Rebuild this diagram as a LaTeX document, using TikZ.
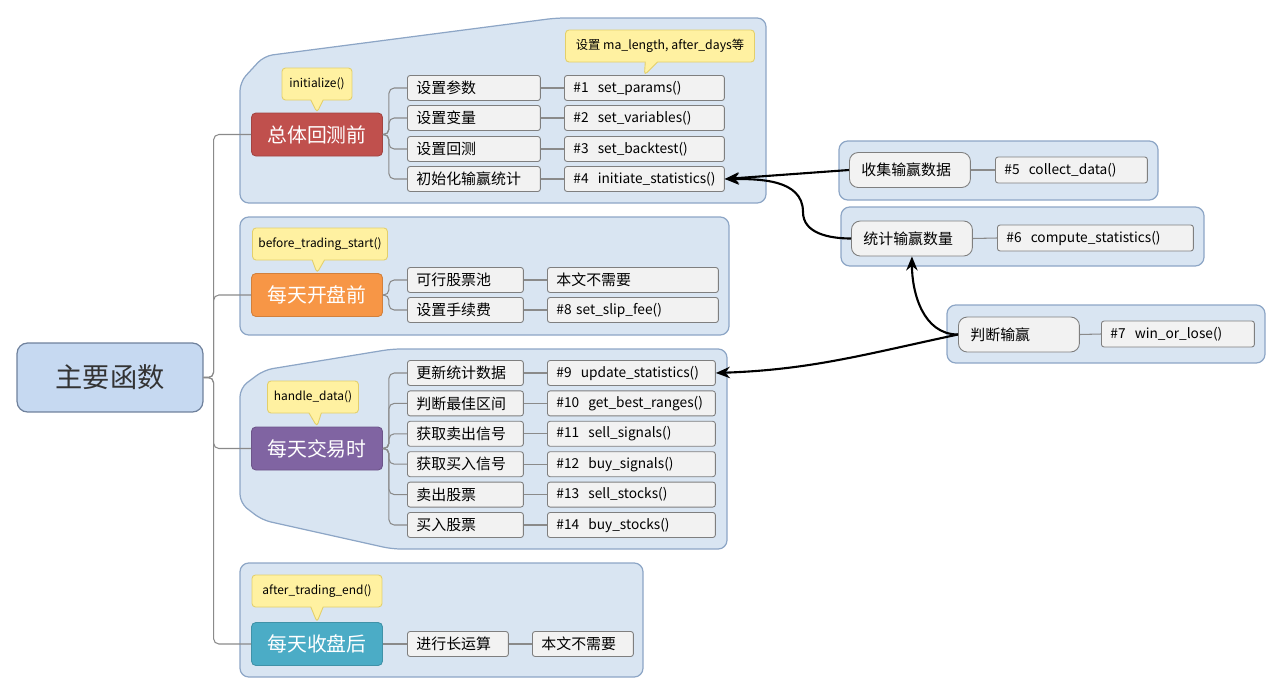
\documentclass[tikz,border=0pt]{standalone}
\usepackage{fontspec}
\setmainfont{Noto Sans CJK SC}
\usetikzlibrary{arrows.meta,shapes.callouts}

\definecolor{grpfill}{HTML}{D9E5F2}
\definecolor{grpdraw}{HTML}{8DA6C6}
\definecolor{cellfill}{HTML}{F2F2F2}
\definecolor{celldraw}{HTML}{7F7F7F}
\definecolor{rootfill}{HTML}{C6D9F1}
\definecolor{rootdraw}{HTML}{6F819C}
\definecolor{notefill}{HTML}{FFF1A1}
\definecolor{notedraw}{HTML}{E3CF6A}
\definecolor{linkcol}{HTML}{8A8A8A}
\definecolor{catred}{HTML}{C0504D}
\definecolor{catorange}{HTML}{F79646}
\definecolor{catpurple}{HTML}{8064A2}
\definecolor{catteal}{HTML}{4BACC6}

\tikzset{
  grp/.style={fill=grpfill,draw=grpdraw,line width=0.7pt,rounded corners=5pt},
  root/.style={fill=rootfill,draw=rootdraw,line width=0.7pt,rounded corners=6pt,
    minimum width=3.72cm,minimum height=1.38cm,text=black!80,
    font=\fontsize{15.5}{18}\selectfont},
  topic/.style={fill=#1,draw=#1!85!black,line width=0.5pt,rounded corners=2.5pt,
    text=white,minimum width=2.62cm,minimum height=0.86cm,inner sep=0pt,
    font=\fontsize{11.3}{13}\selectfont},
  cell/.style={draw=celldraw,fill=cellfill,line width=0.5pt,rounded corners=1.5pt,
    anchor=west,inner xsep=0.18cm,inner ysep=0pt,minimum height=0.5cm,
    text width=#1,align=left,font=\fontsize{8.5}{10}\selectfont,
    execute at begin node={\hyphenpenalty=10000\relax}},
  fn/.style={font=\fontsize{7.8}{9}\selectfont},
  sub/.style={draw=celldraw,fill=cellfill,line width=0.5pt,rounded corners=5pt,
    anchor=west,inner xsep=0.24cm,inner ysep=0pt,minimum height=0.7cm,
    text width=1.94cm,align=left,font=\fontsize{8.5}{10}\selectfont},
  note/.style={rectangle callout,callout absolute pointer={#1},
    callout pointer width=7pt,fill=notefill,draw=notedraw,line width=0.5pt,
    rounded corners=2pt,inner sep=0pt,minimum height=0.64cm,
    font=\fontsize{6.8}{8}\selectfont},
  link/.style={draw=linkcol,line width=0.6pt,rounded corners=3pt},
  flow/.style={-{Stealth[length=8pt,width=6.5pt]},line width=1.2pt,black},
}

\begin{document}
\begin{tikzpicture}[x=0.02cm,y=-0.02cm]
  \useasboundingbox (0,0) rectangle (1276,697);

  % 分组底色
  \draw[grp] (240,203) -- (240,82) -- (264,56) -- (556,18) -- (766,18) -- (766,203) -- cycle;
  \draw[grp] (240,217) rectangle (729,335);
  \draw[grp] (240,388) -- (264,370) -- (392,349) -- (727,349) -- (727,549)
    -- (392,549) -- (262,520) -- (240,503) -- cycle;
  \draw[grp] (240,563) rectangle (643,677);
  \draw[grp] (839,141) rectangle (1158,200);
  \draw[grp] (841,207) rectangle (1204,266);
  \draw[grp] (947,305) rectangle (1265,363);

  % 根节点与四个阶段
  \node[root] (root) at (110,377.5) {主要函数};
  \node[topic=catred] (r1) at (317,134.5) {总体回测前};
  \node[topic=catorange] (r2) at (317,295) {每天开盘前};
  \node[topic=catpurple] (r3) at (317,448.5) {每天交易时};
  \node[topic=catteal] (r4) at (317,644) {每天收盘后};

  % 提示框
  \node[note={(r1.north)},minimum width=1.4cm] (ninit) at (317,84) {initialize()};
  \node[note={(r2.north)},minimum width=2.7cm] (nbefore) at (320,244) {before\_trading\_start()};
  \node[note={(r3.north)},minimum width=1.82cm] (nhandle) at (313,397) {handle\_data()};
  \node[note={(r4.north)},minimum width=2.6cm] (nafter) at (317,591) {after\_trading\_end()};

  % 总体回测前
  \node[cell=2.30cm] (a1) at (407,88) {设置参数};
  \node[cell=2.30cm] (a2) at (407,118) {设置变量};
  \node[cell=2.30cm] (a3) at (407,149) {设置回测};
  \node[cell=2.30cm] (a4) at (407,179) {初始化输赢统计};
  \node[cell=2.84cm,fn] (f1) at (564,88) {\#1~ set\_params()};
  \node[cell=2.84cm,fn] (f2) at (564,118) {\#2~ set\_variables()};
  \node[cell=2.84cm,fn] (f3) at (564,149) {\#3~ set\_backtest()};
  \node[cell=2.84cm,fn] (f4) at (564,179) {\#4~ initiate\_statistics()};
  \node[note={(f1.north)},minimum width=3.78cm,font=\fontsize{7}{8}\selectfont] (nparam)
    at (660,46) {设置 ma\_length, after\_days等};

  % 每天开盘前
  \node[cell=1.96cm] (b1) at (407,280) {可行股票池};
  \node[cell=1.96cm] (b2) at (407,310) {设置手续费};
  \node[cell=3.06cm] (n1) at (547,280) {本文不需要};
  \node[cell=3.06cm,fn] (f8) at (547,310) {\#8 set\_slip\_fee()};

  % 每天交易时
  \node[cell=1.96cm] (d1) at (407,373) {更新统计数据};
  \node[cell=1.96cm] (d2) at (407,403.4) {判断最佳区间};
  \node[cell=1.96cm] (d3) at (407,433.8) {获取卖出信号};
  \node[cell=1.96cm] (d4) at (407,464.2) {获取买入信号};
  \node[cell=1.96cm] (d5) at (407,494.6) {卖出股票};
  \node[cell=1.96cm] (d6) at (407,525) {买入股票};
  \node[cell=3.00cm,fn] (f9) at (547,373) {\#9~ update\_statistics()};
  \node[cell=3.00cm,fn] (f10) at (547,403.4) {\#10~ get\_best\_ranges()};
  \node[cell=3.00cm,fn] (f11) at (547,433.8) {\#11~ sell\_signals()};
  \node[cell=3.00cm,fn] (f12) at (547,464.2) {\#12~ buy\_signals()};
  \node[cell=3.00cm,fn] (f13) at (547,494.6) {\#13~ sell\_stocks()};
  \node[cell=3.00cm,fn] (f14) at (547,525) {\#14~ buy\_stocks()};

  % 每天收盘后
  \node[cell=1.66cm] (e1) at (407,644) {进行长运算};
  \node[cell=1.66cm] (n2) at (532,644) {本文不需要};

  % 右侧辅助函数
  \node[sub] (s5) at (849,170) {收集输赢数据};
  \node[cell=2.68cm,fn,minimum height=0.52cm] (f5) at (995,170) {\#5~ collect\_data()};
  \node[sub] (s6) at (851,238.5) {统计输赢数量};
  \node[cell=3.56cm,fn,minimum height=0.52cm] (f6) at (997,238) {\#6~ compute\_statistics()};
  \node[sub] (s7) at (958,334.5) {判断输赢};
  \node[cell=2.70cm,fn,minimum height=0.52cm] (f7) at (1101,334) {\#7~ win\_or\_lose()};

  % 连线
  \draw[link] (root.east) -- ++(10,0) |- (r1.west);
  \draw[link] (root.east) -- ++(10,0) |- (r2.west);
  \draw[link] (root.east) -- ++(10,0) |- (r3.west);
  \draw[link] (root.east) -- ++(10,0) |- (r4.west);

  \draw[link] (r1.east) -- ++(6,0) |- (a1.west);
  \draw[link] (r1.east) -- ++(6,0) |- (a2.west);
  \draw[link] (r1.east) -- ++(6,0) |- (a3.west);
  \draw[link] (r1.east) -- ++(6,0) |- (a4.west);
  \draw[link] (a1.east) -- (f1.west);
  \draw[link] (a2.east) -- (f2.west);
  \draw[link] (a3.east) -- (f3.west);
  \draw[link] (a4.east) -- (f4.west);

  \draw[link] (r2.east) -- ++(6,0) |- (b1.west);
  \draw[link] (r2.east) -- ++(6,0) |- (b2.west);
  \draw[link] (b1.east) -- (n1.west);
  \draw[link] (b2.east) -- (f8.west);

  \draw[link] (r3.east) -- ++(6,0) |- (d1.west);
  \draw[link] (r3.east) -- ++(6,0) |- (d2.west);
  \draw[link] (r3.east) -- ++(6,0) |- (d3.west);
  \draw[link] (r3.east) -- ++(6,0) |- (d4.west);
  \draw[link] (r3.east) -- ++(6,0) |- (d5.west);
  \draw[link] (r3.east) -- ++(6,0) |- (d6.west);
  \draw[link] (d1.east) -- (f9.west);
  \draw[link] (d2.east) -- (f10.west);
  \draw[link] (d3.east) -- (f11.west);
  \draw[link] (d4.east) -- (f12.west);
  \draw[link] (d5.east) -- (f13.west);
  \draw[link] (d6.east) -- (f14.west);

  \draw[link] (r4.east) -- (e1.west);
  \draw[link] (e1.east) -- (n2.west);

  \draw[link] (s5.east) -- (f5.west);
  \draw[link] (s6.east) -- (f6.west);
  \draw[link] (s7.east) -- (f7.west);

  % 调用关系
  \coordinate (bend6) at (803,212);
  \draw[flow] (s5.west) -- (f4.east);
  \draw[flow] (s6.west) to[out=180,in=-90] (bend6) to[out=90,in=0] (f4.east);
  \draw[flow] (s7.west) to[out=180,in=-90] (s6.south);
  \draw[flow] (s7.west) to[out=192,in=2] (f9.east);
\end{tikzpicture}
\end{document}
